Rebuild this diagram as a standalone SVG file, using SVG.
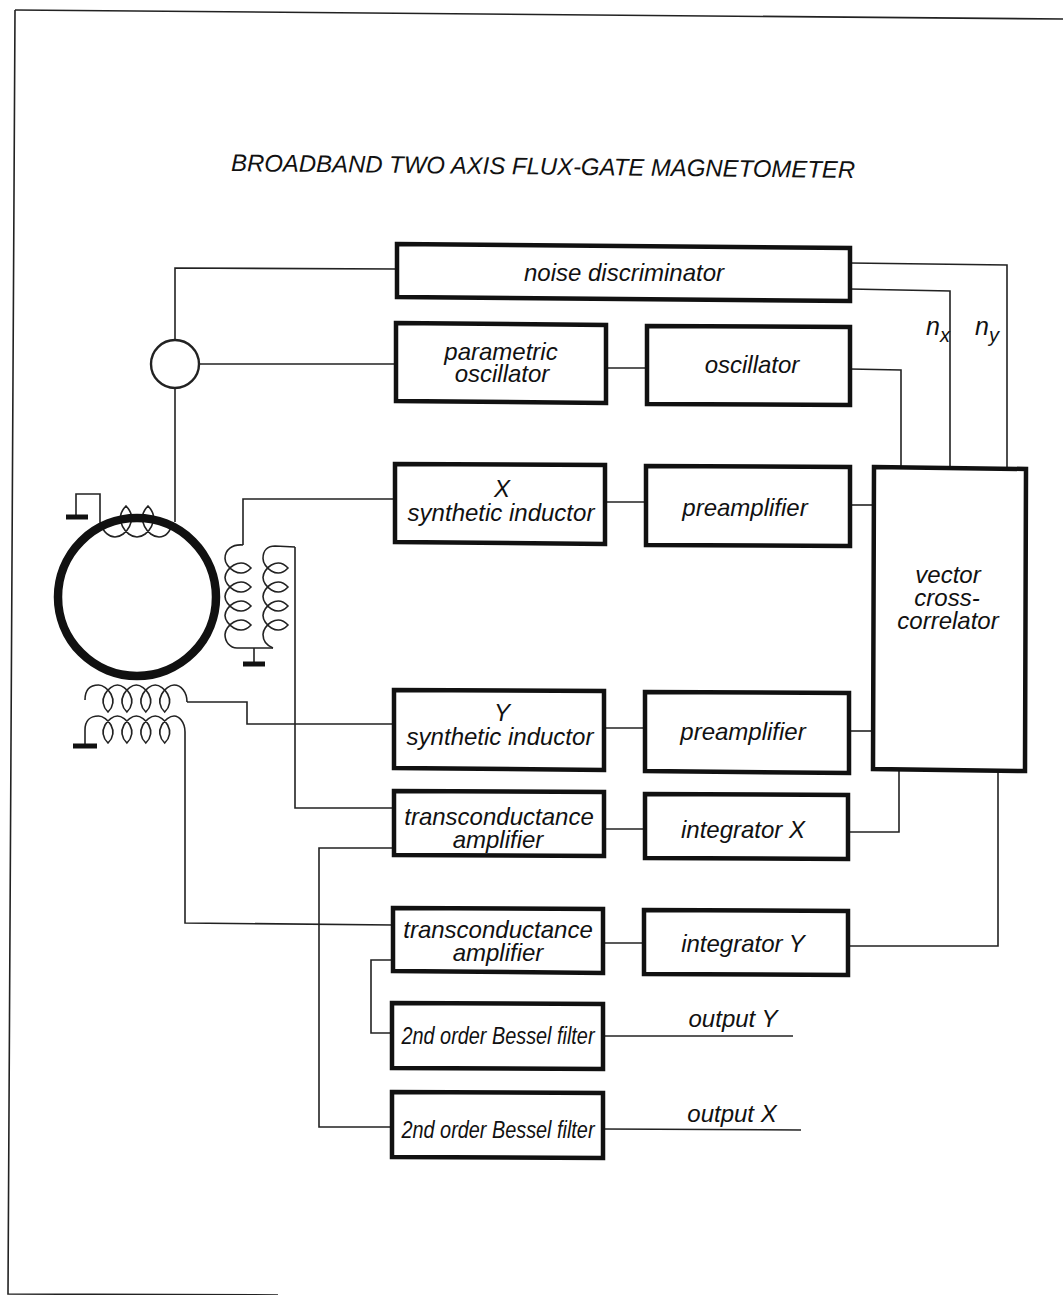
<svg xmlns="http://www.w3.org/2000/svg" width="1063" height="1295" viewBox="0 0 1063 1295">
<style>
text{font-family:"Liberation Sans",Arial,sans-serif;font-style:italic;font-size:24px;fill:#111;text-anchor:middle}
.b{fill:#fff;stroke:#111;stroke-width:4.5}
.w{fill:none;stroke:#222;stroke-width:1.6}
.g{fill:none;stroke:#111;stroke-width:5}
.n{font-size:25px;text-anchor:start}
.s{font-size:20px}
</style>
<rect width="1063" height="1295" fill="#fff"/>
<g id="frame" class="w"><path d="M15,10 L1063,19"/><path d="M15,10 L8,1294 L278,1295"/></g>
<g id="connectors" class="w">
<path d="M175,340 V268 L396,269"/>
<path d="M199,364 H396"/>
<path d="M175,388 V522"/>
<path d="M850,263 L1007,265 V468"/>
<path d="M850,289 L950,291 V468"/>
<path d="M850,369 L901,370 V467"/>
<path d="M606,368 H647"/>
<path d="M395,499 H243 V545"/>
<path d="M605,502 H646"/>
<path d="M850,505 H874"/>
<path d="M187,702 H247 V724 H394"/>
<path d="M604,728 H645"/>
<path d="M849,731 H874"/>
<path d="M295,547 V808 H394"/>
<path d="M604,829 H645"/>
<path d="M848,832 H899 V770"/>
<path d="M394,848 H319 V1127 H392"/>
<path d="M185,740 V923 L393,925"/>
<path d="M393,960 H371 V1033 H392"/>
<path d="M603,943 H644"/>
<path d="M848,946 H998 V770"/>
<path d="M603,1036 H793"/>
<path d="M603,1129 L801,1130"/>
</g>
<g id="coil-top" class="w">
<path d="M76,517 V494 H100 V522 C103,533 110,537 115,537 c11,0 24,-18 11,-31 c-13,13 0,31 11,31 c11,0 24,-18 11,-31 c-13,13 0,31 11,31 C165,537 170,533 173,522"/>
<path class="g" d="M66,517 H88"/>
</g>
<g id="coil-right-primary" class="w">
<path d="M243,545 C232,544 225,550 225,558.5 c0,8.5 15,21.5 26,9.5 c-11,-12 -26,1 -26,9.5 c0,8.5 15,21.5 26,9.5 c-11,-12 -26,1 -26,9.5 c0,8.5 15,21.5 26,9.5 c-11,-12 -26,1 -26,9.5 c0,8.5 15,21.5 26,9.5 c-11,-12 -26,1 -26,9.5 C225,642 230,648 237,648 H273"/>
</g>
<g id="coil-right-secondary" class="w">
<path d="M295,547 L275,546 C268,546 263,550 263,558.5 c0,8.5 14,21.5 25,9.5 c-11,-12 -25,1 -25,9.5 c0,8.5 14,21.5 25,9.5 c-11,-12 -25,1 -25,9.5 c0,8.5 14,21.5 25,9.5 c-11,-12 -25,1 -25,9.5 c0,8.5 14,21.5 25,9.5 c-11,-12 -25,1 -25,9.5 C263,642 268,646 273,648"/>
<path d="M254,648 V664"/>
<path class="g" d="M243,664 H265"/>
</g>
<g id="coil-bottom-primary" class="w">
<path d="M85,700 C85,690 90,685 98.5,685 c8.5,0 21.5,15 9.5,27 c-12,-12 1,-27 9.4,-27 c8.5,0 21.5,15 9.5,27 c-12,-12 1,-27 9.4,-27 c8.5,0 21.5,15 9.5,27 c-12,-12 1,-27 9.4,-27 c8.5,0 21.5,15 9.5,27 c-12,-12 1,-27 9.4,-27 C181,685 187,692 187,702"/>
</g>
<g id="coil-bottom-secondary" class="w">
<path d="M85,746 V730 C85,721 90,716 98.5,716 c8.5,0 21.5,15 9.5,27 c-12,-12 1,-27 9.4,-27 c8.5,0 21.5,15 9.5,27 c-12,-12 1,-27 9.4,-27 c8.5,0 21.5,15 9.5,27 c-12,-12 1,-27 9.4,-27 c8.5,0 21.5,15 9.5,27 c-12,-12 1,-27 9.4,-27 C179,716 185,722 185,732 V740"/>
<path class="g" d="M73,746 H97"/>
</g>
<g id="core"><circle cx="137" cy="597" r="79" fill="none" stroke="#111" stroke-width="8.5"/></g>
<g id="junction"><circle cx="175" cy="364" r="24" fill="#fff" stroke="#222" stroke-width="2.4"/></g>
<g id="title"><text x="543" y="174.5" transform="rotate(0.64 543 174.5)" textLength="624" lengthAdjust="spacingAndGlyphs">BROADBAND TWO AXIS FLUX-GATE MAGNETOMETER</text></g>
<g id="noise-discriminator"><polygon class="b" points="397,244 850,248 850,301 397,297"/><text x="624" y="281">noise discriminator</text></g>
<g id="parametric-oscillator"><polygon class="b" points="396,323 606,325 606,403 396,401"/><text x="501" y="360">parametric</text><text x="502" y="382">oscillator</text></g>
<g id="oscillator"><polygon class="b" points="647,326 850,327 850,405 647,404"/><text x="752" y="373">oscillator</text></g>
<g id="x-synthetic-inductor"><polygon class="b" points="395,464 605,465 605,544 395,542"/><text x="502" y="497">X</text><text x="501" y="521">synthetic inductor</text></g>
<g id="preamplifier-x"><polygon class="b" points="646,466 850,467 850,546 646,545"/><text x="745" y="516">preamplifier</text></g>
<g id="vector-cross-correlator"><polygon class="b" points="874,467 1026,469 1025,771 873,769"/><text x="948" y="583">vector</text><text x="947" y="606">cross-</text><text x="948" y="629">correlator</text></g>
<g id="y-synthetic-inductor"><polygon class="b" points="394,690 604,691 604,770 394,768"/><text x="502" y="721">Y</text><text x="500" y="745">synthetic inductor</text></g>
<g id="preamplifier-y"><polygon class="b" points="645,692 849,693 849,773 645,771"/><text x="743" y="740">preamplifier</text></g>
<g id="transconductance-amplifier-x"><polygon class="b" points="394,791 604,792 604,856 394,855"/><text x="499" y="825">transconductance</text><text x="498" y="848">amplifier</text></g>
<g id="integrator-x"><polygon class="b" points="645,794 848,795 848,859 645,858"/><text x="743" y="838">integrator X</text></g>
<g id="transconductance-amplifier-y"><polygon class="b" points="393,908 603,909 603,973 393,971"/><text x="498" y="938">transconductance</text><text x="498" y="961">amplifier</text></g>
<g id="integrator-y"><polygon class="b" points="644,910 848,911 848,975 644,974"/><text x="743" y="952">integrator Y</text></g>
<g id="bessel-filter-y"><polygon class="b" points="392,1003 603,1004 603,1069 392,1068"/><text x="498" y="1044" textLength="193" lengthAdjust="spacingAndGlyphs">2nd order Bessel filter</text></g>
<g id="bessel-filter-x"><polygon class="b" points="392,1092 603,1093 603,1158 392,1157"/><text x="498" y="1138" textLength="193" lengthAdjust="spacingAndGlyphs">2nd order Bessel filter</text></g>
<g id="label-output-y"><text x="733" y="1027">output Y</text></g>
<g id="label-output-x"><text x="732" y="1122">output X</text></g>
<g id="label-nx"><text class="n" x="926" y="335">n<tspan class="s" dy="7">x</tspan></text></g>
<g id="label-ny"><text class="n" x="975" y="335">n<tspan class="s" dy="7">y</tspan></text></g>
</svg>
